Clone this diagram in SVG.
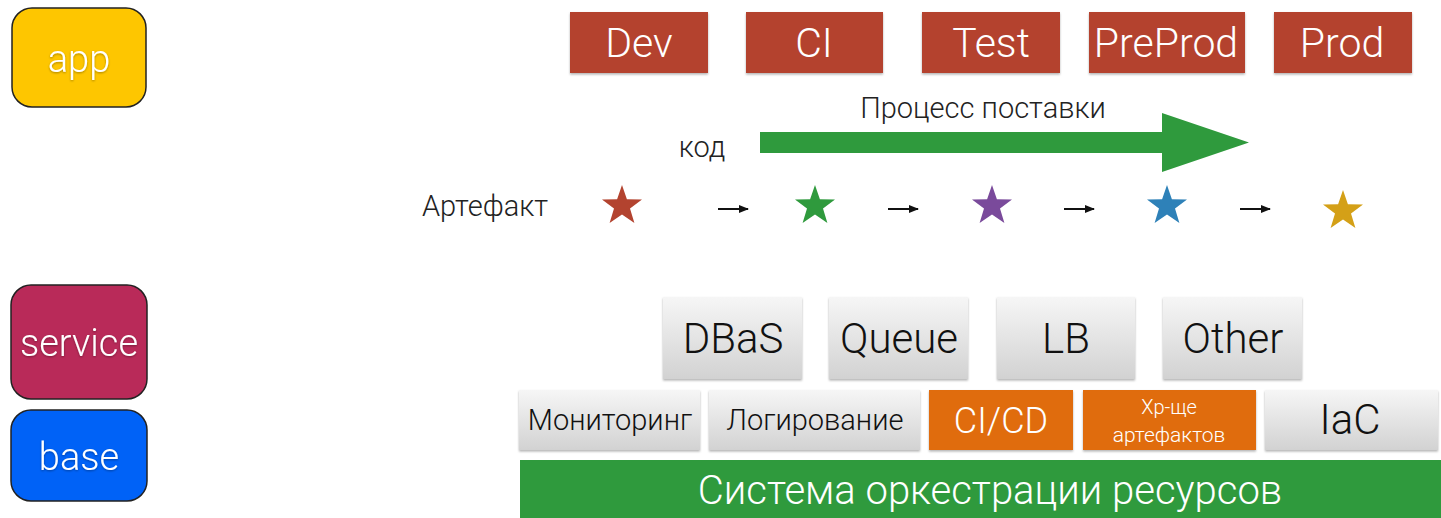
<svg xmlns="http://www.w3.org/2000/svg" width="1441" height="518" viewBox="0 0 1441 518">
<defs>
<linearGradient id="grey" x1="0" y1="0" x2="0" y2="1">
<stop offset="0" stop-color="#f6f6f6"/>
<stop offset="1" stop-color="#d2d2d2"/>
</linearGradient>
<filter id="sh" x="-10%" y="-10%" width="120%" height="130%">
<feDropShadow dx="0" dy="1.5" stdDeviation="1.2" flood-color="#000" flood-opacity="0.3"/>
</filter>
<filter id="tsh" x="-10%" y="-20%" width="120%" height="150%">
<feDropShadow dx="0" dy="1" stdDeviation="1" flood-color="#000" flood-opacity="0.35"/>
</filter>
<marker id="ah" viewBox="0 0 10 10" refX="9" refY="5" markerWidth="5" markerHeight="5" orient="auto">
<path d="M0,1 L10,5 L0,9 Z" fill="#111"/>
</marker>
<polygon id="star" points="0,-21 4.9,-6.8 20,-6.5 8,2.6 12.4,17 0,8.4 -12.4,17 -8,2.6 -20,-6.5 -4.9,-6.8"/>
</defs>
<style>
text{font-family:Roboto,"Liberation Sans",Arial,sans-serif;font-weight:300;text-anchor:middle}
.layer{stroke:#222;stroke-width:1.5}
.lt{fill:#fff;font-size:38px;filter:url(#tsh)}
.env rect{fill:#b4432f;filter:url(#sh)}
.env text{fill:#fff;font-size:41px}
.gbox rect{fill:url(#grey);filter:url(#sh)}
.gbox text{fill:#111}
.obox rect{fill:#e06c10;filter:url(#sh)}
.obox text{fill:#fff}
.lbl{fill:#222;font-size:29px}
.arr{stroke:#111;stroke-width:2;marker-end:url(#ah)}
</style>
<rect width="1441" height="518" fill="#fff"/>

<g id="app"><rect class="layer" x="12" y="8" width="134" height="99" rx="20" fill="#fec600"/><text class="lt" x="79" y="72">app</text></g>
<g id="service"><rect class="layer" x="11" y="285" width="136" height="114" rx="20" fill="#b92a59"/><text class="lt" x="79" y="356">service</text></g>
<g id="base"><rect class="layer" x="11" y="410" width="136" height="91" rx="20" fill="#0062f7"/><text class="lt" x="79" y="470">base</text></g>

<g id="env-dev" class="env"><rect x="570" y="12" width="138" height="61"/><text x="639" y="57">Dev</text></g>
<g id="env-ci" class="env"><rect x="746" y="12" width="137" height="61"/><text x="814" y="57">CI</text></g>
<g id="env-test" class="env"><rect x="922" y="12" width="138" height="61"/><text x="991" y="57">Test</text></g>
<g id="env-preprod" class="env"><rect x="1089" y="12" width="156" height="61"/><text x="1166" y="57">PreProd</text></g>
<g id="env-prod" class="env"><rect x="1274" y="12" width="138" height="61"/><text x="1342" y="57">Prod</text></g>

<g id="delivery">
<polygon points="760,132 1162,132 1162,113 1249,142.5 1162,172 1162,153 760,153" fill="#2f9a3d"/>
<text class="lbl" x="983" y="118">Процесс поставки</text>
<text class="lbl" x="702" y="157">код</text>
</g>

<g id="artifacts">
<text class="lbl" x="485" y="216">Артефакт</text>
<use href="#star" x="622" y="206" fill="#b3432f"/>
<use href="#star" x="815" y="206" fill="#2f9a3d"/>
<use href="#star" x="992" y="206" fill="#7a4a9b"/>
<use href="#star" x="1167" y="206" fill="#2e81b8"/>
<use href="#star" x="1343" y="211" fill="#d4a017"/>
</g>
<g id="connectors">
<line class="arr" x1="718" y1="209" x2="748" y2="209"/>
<line class="arr" x1="888" y1="209" x2="918" y2="209"/>
<line class="arr" x1="1064" y1="209" x2="1094" y2="209"/>
<line class="arr" x1="1240" y1="209" x2="1270" y2="209"/>
</g>

<g id="dbas" class="gbox"><rect x="663" y="297" width="139" height="82"/><text x="733" y="353" font-size="42">DBaS</text></g>
<g id="queue" class="gbox"><rect x="829" y="297" width="139" height="82"/><text x="899" y="353" font-size="42">Queue</text></g>
<g id="lb" class="gbox"><rect x="997" y="297" width="138" height="82"/><text x="1066" y="353" font-size="42">LB</text></g>
<g id="other" class="gbox"><rect x="1163" y="297" width="139" height="82"/><text x="1233" y="353" font-size="42">Other</text></g>

<g id="monitoring" class="gbox"><rect x="519" y="390" width="181" height="60"/><text x="610" y="430" font-size="29">Мониторинг</text></g>
<g id="logging" class="gbox"><rect x="709" y="390" width="211" height="60"/><text x="815" y="430" font-size="29">Логирование</text></g>
<g id="cicd" class="obox"><rect x="929" y="390" width="144" height="60"/><text x="1001" y="433" font-size="36">CI/CD</text></g>
<g id="storage" class="obox"><rect x="1083" y="390" width="173" height="60"/><text x="1169" y="414" font-size="20">Хр-ще</text><text x="1169" y="442" font-size="21">артефактов</text></g>
<g id="iac" class="gbox"><rect x="1265" y="390" width="173" height="60"/><text x="1350" y="434" font-size="42">IaC</text></g>

<g id="orchestration"><rect x="520" y="460" width="921" height="58" fill="#2f9a3d"/><text x="990" y="504" font-size="40" fill="#fff">Система оркестрации ресурсов</text></g>
</svg>
